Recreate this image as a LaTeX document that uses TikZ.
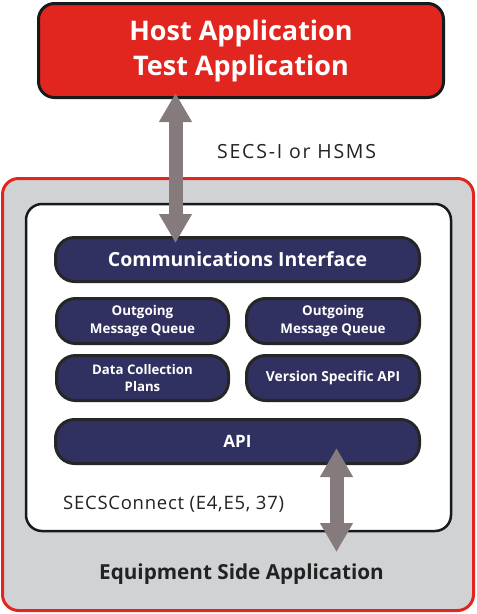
\documentclass[tikz,border=0pt]{standalone}
\usepackage{fontspec}
\setmainfont{Open Sans}
\usetikzlibrary{arrows.meta}
\definecolor{hostred}{HTML}{E1261F}
\definecolor{navy}{HTML}{303160}
\definecolor{panelgrey}{HTML}{D1D2D4}
\definecolor{arrowgrey}{HTML}{857B7C}
\definecolor{txtdark}{HTML}{222222}
\tikzset{
  block/.style={draw=black!85, line width=3pt, fill=navy, text=white,
    rounded corners=19pt, font=\bfseries, align=center, inner sep=0pt},
  fatarrow/.style={draw=arrowgrey, line width=14pt,
    {Triangle[width=31pt,length=29pt]}-{Triangle[width=31pt,length=29pt]}},
}
\begin{document}
\begin{tikzpicture}[x=1pt,y=-1pt]
\useasboundingbox (0,0) rectangle (477,614);
% outer panel
\node[draw=hostred, line width=3pt, fill=panelgrey, rounded corners=16pt,
  minimum width=471pt, minimum height=432pt, inner sep=0pt] (equip) at (238,394.5) {};
\node[draw=black!90, line width=2.5pt, fill=white, rounded corners=16pt,
  minimum width=425pt, minimum height=327pt, inner sep=0pt] (secs) at (238.5,367.5) {};
% host
\node[draw=black!90, line width=3pt, fill=hostred, rounded corners=16pt,
  minimum width=405pt, minimum height=94pt, inner sep=0pt, text=white,
  font=\bfseries\fontsize{27}{35}\selectfont, align=center] (host) at (241,50.5)
  {Host Application\\Test Application};
% blocks
\node[block, minimum width=364pt, minimum height=44pt, font=\bfseries\fontsize{19.5}{22}\selectfont]
  (comm) at (237.5,259.5) {Communications Interface};
\node[block, minimum width=172pt, minimum height=45pt, font=\bfseries\fontsize{13.4}{17.5}\selectfont]
  (out1) at (142.5,321) {Outgoing\\Message Queue};
\node[block, minimum width=173pt, minimum height=45pt, font=\bfseries\fontsize{13.4}{17.5}\selectfont]
  (out2) at (333,321) {Outgoing\\Message Queue};
\node[block, minimum width=172pt, minimum height=45pt, font=\bfseries\fontsize{13.2}{17.5}\selectfont]
  (dcp) at (142.5,378) {Data Collection\\Plans};
\node[block, minimum width=173pt, minimum height=45pt, font=\bfseries\fontsize{13.8}{17}\selectfont]
  (vsa) at (333,378) {Version Specific API};
\node[block, minimum width=364pt, minimum height=44pt, font=\bfseries\fontsize{17}{20}\selectfont]
  (api) at (237.5,441.5) {API};
% labels
\node[anchor=west, text=txtdark, font=\fontsize{19.5}{22}\addfontfeatures{LetterSpace=9}\selectfont, inner sep=0pt]
  (lbl1) at (217,152) {SECS-I or HSMS};
\node[anchor=west, text=txtdark, font=\fontsize{18.5}{22}\addfontfeatures{LetterSpace=4}\selectfont, inner sep=0pt]
  (lbl2) at (63,504) {SECSConnect (E4,E5, 37)};
\node[text=txtdark, font=\bfseries\fontsize{20.7}{24}\selectfont, inner sep=0pt]
  (lbl3) at (241.5,574) {Equipment Side Application};
% arrows
\coordinate (a1top) at (175.5,93);
\coordinate (a1bot) at (175.5,243);
\coordinate (a2top) at (336.5,448);
\coordinate (a2bot) at (336.5,552);
\draw[fatarrow] (a1top) -- (a1bot);
\draw[fatarrow] (a2top) -- (a2bot);
\end{tikzpicture}
\end{document}
